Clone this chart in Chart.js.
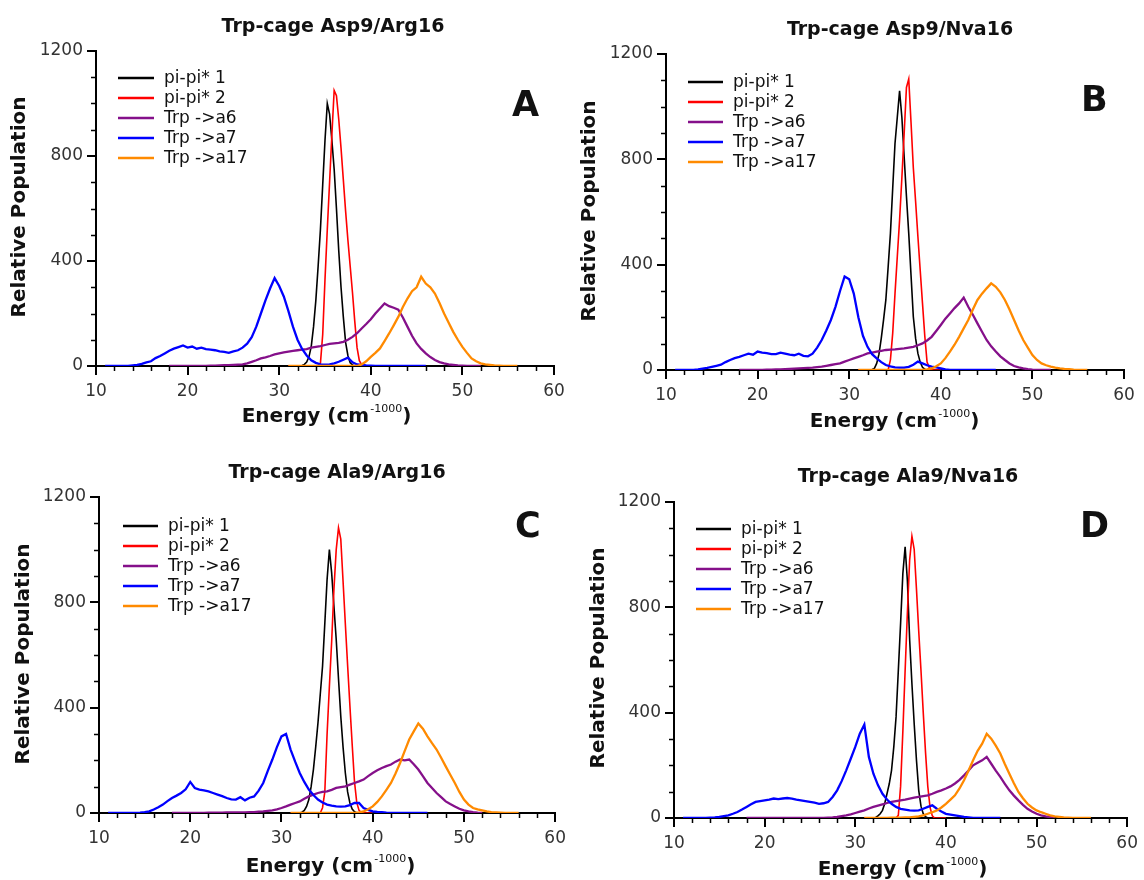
<!DOCTYPE html>
<html lang="en">
<head>
<meta charset="UTF-8">
<title>Trp-cage energy distributions</title>
<script src="https://cdn.jsdelivr.net/npm/chart.js"></script>
<style>
  body { margin: 0; background: #fff; }
  #wrap { position: relative; width: 1144px; height: 880px; }
  canvas { position: absolute; }
</style>
</head>
<body>
<div id="wrap">
  <canvas id="chartA" width="572" height="440" style="left:0;top:0"></canvas>
  <canvas id="chartB" width="572" height="440" style="left:572px;top:0"></canvas>
  <canvas id="chartC" width="572" height="440" style="left:0;top:440px"></canvas>
  <canvas id="chartD" width="572" height="440" style="left:572px;top:440px"></canvas>
</div>
<script>
// energy grids: wide bands every 0.5, narrow pi-pi* bands every 0.25
const blueStart = 11, purpleStart = 18, orangeStart = 31, peakStart = 31;
const wideStep = 0.5, peakStep = 0.25;

const legendLabels = ['pi-pi* 1', 'pi-pi* 2', 'Trp ->a6', 'Trp ->a7', 'Trp ->a17'];
const xTicks = [10, 20, 30, 40, 50, 60];
const yTicks = [0, 400, 800, 1200];

// Panel A: Asp9/Arg16
const aBlack = [0,0,0,0,0,0,2,6,15,35, 75,150,250,380,520,690,860,1000,960,860,
  750,600,440,300,187,90,40,12,4,0, 0,0,0,0,0,0,0];
const aRed = [0,0,0,0,0,0,0,0,0,0, 0,0,0,0,10,120,330,520,700,880,
  1050,1030,940,830,710,590,480,380,280,170, 70,20,5,0,0,0,0];
const aPurple = [0,0,0,0,0,0,0,0,0,1, 1,2,3,3,4,5,6,10,16,22,
  29,33,38,44,48,52,55,58,60,62, 64,70,73,76,80,84,86,88,92,100,
  111,125,143,160,178,200,219,238,228,222, 215,185,150,115,86,65,48,34,23,15,
  10,6,4,2,1,0,0,0,0];
const aBlue = [0,0,0,0,0,0,2,4,8,14, 18,30,38,48,58,66,72,78,70,74,
  66,70,64,62,60,56,54,50,56,60, 70,85,110,150,200,250,295,335,305,265,
  210,150,100,65,40,22,12,6,5,6, 10,16,24,32,14,6,4,2,1,0,
  0,0,0,0,0,0,0,0,0,0, 0];
const aOrange = [0,0,0,0,0,0,0,0,0,0, 0,0,0,0,0,0,6,18,35,50,
  67,95,124,155,187,225,257,285,300,340, 314,300,276,240,200,165,130,100,73,50,
  29,18,10,6,4,2,1,0,0,0, 0];

// Panel B: Asp9/Nva16
const bBlack = [0,0,0,0,0,0,2,6,25,60, 120,190,266,390,519,690,860,960,1060,960,
  810,660,519,360,202,120,63,30,10,3, 0,0,0,0,0,0,0];
const bRed = [0,0,0,0,0,0,0,0,0,0, 0,0,0,0,38,140,290,430,569,730,
  898,1073,1105,940,768,640,507,380,254,130, 30,8,2,0,0,0,0];
const bPurple = [0,0,0,0,0,0,1,1,2,2, 3,4,5,6,7,8,9,11,13,16,
  19,22,25,32,38,44,50,56,63,66, 70,73,76,77,78,80,82,85,88,94,
  101,112,126,148,171,195,215,235,253,275, 240,210,177,145,114,90,70,52,38,25,
  15,10,6,3,1,0,0,0,0];
const bBlue = [0,0,0,0,0,2,5,8,12,16, 20,30,38,45,50,56,62,58,70,66,
  64,60,60,66,62,58,56,62,54,52, 62,85,114,150,190,240,300,355,345,290,
  200,130,88,60,44,30,19,14,10,9, 9,12,20,32,25,18,13,10,6,2,
  0,0,0,0,0,0,0,0,0,0, 0];
const bOrange = [0,0,0,0,0,0,0,0,0,0, 0,0,0,0,0,2,6,14,25,45,
  70,96,126,158,190,230,266,290,310,329, 316,295,266,230,190,150,114,85,57,38,
  25,18,13,9,6,4,3,1,0,0, 0];

// Panel C: Ala9/Arg16
const cBlack = [0,0,0,0,0,3,10,25,51,100, 165,250,342,450,557,720,887,1000,912,785,
  659,510,367,250,152,80,38,15,5,0, 0,0,0,0,0,0,0];
const cRed = [0,0,0,0,0,0,0,0,0,0, 0,0,0,0,20,80,300,480,650,850,
  1000,1083,1040,880,718,560,407,260,120,40, 10,2,0,0,0,0,0];
const cPurple = [0,0,0,0,0,0,0,0,1,1, 1,1,2,2,2,2,2,3,3,5,
  6,8,10,14,19,25,32,38,44,54, 63,70,76,80,82,88,95,98,101,108,
  114,120,127,140,152,162,171,178,184,195, 203,200,203,185,165,140,114,95,76,60,
  44,34,25,16,10,6,3,1,0];
const cBlue = [0,0,0,0,0,0,0,1,3,6, 13,22,32,45,57,66,76,90,118,95,
  89,86,82,76,70,64,57,52,51,60, 48,58,63,85,114,160,203,250,291,300,
  241,195,152,118,89,68,51,40,32,28, 25,24,25,30,38,38,19,12,6,4,
  3,1,0,0,0,0,0,0,0,0, 0];
const cOrange = [0,0,0,0,0,0,0,0,0,0, 0,0,0,0,0,2,6,14,25,42,
  63,88,114,150,190,235,279,310,340,320, 291,265,241,210,177,145,114,80,51,32,
  19,14,10,6,3,2,1,0,0,0, 0];

// Panel D: Ala9/Nva16
const dBlack = [0,0,0,0,0,2,8,16,29,55, 92,130,181,270,384,560,739,929,1030,900,
  677,510,358,220,105,45,16,5,0,0, 0,0,0,0,0,0,0];
const dRed = [0,0,0,0,0,0,0,0,0,0, 0,0,0,0,0,10,120,330,560,780,
  980,1070,1020,870,710,560,400,250,120,40, 8,0,0,0,0,0,0];
const dPurple = [0,0,0,0,0,0,0,0,0,0, 0,0,0,0,0,0,0,0,1,2,
  4,7,10,14,19,24,29,36,42,47, 52,57,61,64,67,70,74,77,80,83,
  86,92,99,105,112,120,131,145,162,180, 200,210,219,232,206,180,156,130,105,85,
  67,50,35,25,16,10,6,3,0];
const dBlue = [0,0,0,0,0,0,1,2,4,7, 10,16,23,32,42,52,61,64,67,70,
  74,72,74,76,74,70,67,64,61,58, 54,56,61,80,105,140,181,225,270,320,
  355,232,168,125,92,70,54,42,35,32, 29,28,29,35,42,48,35,25,16,13,
  10,7,4,2,0,0,0,0,0,0, 0];
const dOrange = [0,0,0,0,0,0,1,1,1,2, 2,4,6,10,16,22,29,40,54,70,
  86,112,143,180,219,255,282,320,301,275, 245,205,168,132,99,75,54,40,29,22,
  16,10,6,4,2,1,0,0,0,0, 0];

const FONT = 'DejaVu Sans';
const colors = ['#000000', '#ff0000', '#85108a', '#0000ff', '#ff8a00'];

function toPoints(start, step, values) {
  return values.map((v, i) => ({ x: start + i * step, y: v }));
}

const panels = [
  { id: 'chartA', title: 'Trp-cage Asp9/Arg16', letter: 'A',
    area: { l: 96, r: 554, t: 51, b: 366 },
    titlePos: [333, 32], yTitlePos: [20, 207], xTitlePos: [326, 422],
    letterPos: [512, 116], legendPos: [118, 154, 164, 78],
    series: [aBlack, aRed, aPurple, aBlue, aOrange] },
  { id: 'chartB', title: 'Trp-cage Asp9/Nva16', letter: 'B',
    area: { l: 94, r: 552, t: 54, b: 370 },
    titlePos: [328, 35], yTitlePos: [18, 211], xTitlePos: [322, 427],
    letterPos: [509, 111], legendPos: [116, 151, 161, 82],
    series: [bBlack, bRed, bPurple, bBlue, bOrange] },
  { id: 'chartC', title: 'Trp-cage Ala9/Arg16', letter: 'C',
    area: { l: 99, r: 561, t: 57, b: 373 },
    titlePos: [337, 38], yTitlePos: [24, 214], xTitlePos: [330, 432],
    letterPos: [515, 97], legendPos: [123, 158, 168, 86],
    series: [cBlack, cRed, cPurple, cBlue, cOrange] },
  { id: 'chartD', title: 'Trp-cage Ala9/Nva16', letter: 'D',
    area: { l: 102, r: 560, t: 62, b: 378 },
    titlePos: [336, 42], yTitlePos: [27, 218], xTitlePos: [330, 435],
    letterPos: [508, 97], legendPos: [124, 159, 169, 89],
    series: [dBlack, dRed, dPurple, dBlue, dOrange] }
];

// minor ticks, titles, panel letter and the legend
const decor = {
  id: 'decor',
  beforeDatasetsDraw(chart) {
    const ctx = chart.ctx, xs = chart.scales.x, ys = chart.scales.y;
    const a = chart.chartArea;
    ctx.save();
    ctx.strokeStyle = '#000';
    ctx.lineWidth = 1.5;
    ctx.beginPath();
    for (let v = 12; v < 60; v += 2) {
      if (v % 10 === 0) continue;
      const px = Math.round(xs.getPixelForValue(v)) + 0.5;
      ctx.moveTo(px, a.bottom);
      ctx.lineTo(px, a.bottom + 5);
    }
    for (let v = 100; v < 1200; v += 100) {
      if (v % 400 === 0) continue;
      const py = Math.round(ys.getPixelForValue(v)) + 0.5;
      ctx.moveTo(a.left - 5, py);
      ctx.lineTo(a.left, py);
    }
    ctx.stroke();
    ctx.restore();
  },
  afterDraw(chart, args, p) {
    const ctx = chart.ctx;
    ctx.save();
    ctx.fillStyle = '#111';
    ctx.textBaseline = 'alphabetic';

    ctx.font = 'bold 19px "' + FONT + '"';
    ctx.textAlign = 'center';
    ctx.fillText(p.title, p.titlePos[0], p.titlePos[1]);

    ctx.font = 'bold 35px "' + FONT + '"';
    ctx.textAlign = 'left';
    ctx.fillText(p.letter, p.letterPos[0], p.letterPos[1]);

    // y axis title
    ctx.save();
    ctx.translate(p.yTitlePos[0], p.yTitlePos[1]);
    ctx.rotate(-Math.PI / 2);
    ctx.font = 'bold 20px "' + FONT + '"';
    ctx.textAlign = 'center';
    ctx.textBaseline = 'middle';
    ctx.fillText('Relative Population', 0, 0);
    ctx.restore();

    // x axis title with superscript
    const main = 'Energy (cm', sup = '-1000', close = ')';
    ctx.font = 'bold 20px "' + FONT + '"';
    const w1 = ctx.measureText(main).width, w3 = ctx.measureText(close).width;
    ctx.font = '11px "' + FONT + '"';
    const w2 = ctx.measureText(sup).width;
    let x0 = p.xTitlePos[0] - (w1 + w2 + w3) / 2;
    const yb = p.xTitlePos[1];
    ctx.textAlign = 'left';
    ctx.font = 'bold 20px "' + FONT + '"';
    ctx.fillText(main, x0, yb);
    ctx.font = '11px "' + FONT + '"';
    ctx.fillText(sup, x0 + w1 + 1, yb - 10);
    ctx.font = 'bold 20px "' + FONT + '"';
    ctx.fillText(close, x0 + w1 + w2 + 1, yb);

    // legend
    const [lx1, lx2, tx, ly] = p.legendPos;
    ctx.font = '17px "' + FONT + '"';
    ctx.textBaseline = 'middle';
    legendLabels.forEach((lab, i) => {
      const y = ly + i * 20;
      ctx.strokeStyle = colors[i];
      ctx.lineWidth = 2.5;
      ctx.beginPath();
      ctx.moveTo(lx1, y);
      ctx.lineTo(lx2, y);
      ctx.stroke();
      ctx.fillStyle = '#111';
      ctx.fillText(lab, tx, y + 1);
    });
    ctx.restore();
  }
};

function makeChart(p) {
  const W = 572, H = 440;
  const starts = [peakStart, peakStart, purpleStart, blueStart, orangeStart];
  const steps = [peakStep, peakStep, wideStep, wideStep, wideStep];
  const widths = [1.6, 1.6, 2.3, 2.3, 2.3];
  const orders = [5, 4, 3, 2, 1];
  const datasets = p.series.map((vals, i) => ({
    label: legendLabels[i],
    data: toPoints(starts[i], steps[i], vals),
    borderColor: colors[i],
    borderWidth: widths[i],
    pointRadius: 0,
    tension: 0,
    fill: false,
    order: orders[i]
  }));

  new Chart(document.getElementById(p.id), {
    type: 'line',
    data: { datasets },
    options: {
      responsive: false,
      animation: false,
      devicePixelRatio: 1,
      layout: { padding: { left: 0, top: p.area.t, right: W - p.area.r, bottom: 0 } },
      plugins: {
        legend: { display: false },
        tooltip: { enabled: false },
        decor: p
      },
      scales: {
        x: {
          type: 'linear', min: 10, max: 60,
          afterBuildTicks(scale) { scale.ticks = xTicks.map(v => ({ value: v })); },
          afterFit(scale) { scale.height = H - p.area.b; },
          ticks: { color: '#333', padding: 6, font: { family: FONT, size: 17 },
                   callback: v => String(v) },
          grid: { drawOnChartArea: false, color: '#000', tickLength: 9, lineWidth: 2 },
          border: { color: '#000', width: 2 }
        },
        y: {
          type: 'linear', min: 0, max: 1200,
          afterBuildTicks(scale) { scale.ticks = yTicks.map(v => ({ value: v })); },
          afterFit(scale) { scale.width = p.area.l; },
          ticks: { color: '#333', padding: 4, font: { family: FONT, size: 17 },
                   callback: v => String(v) },
          grid: { drawOnChartArea: false, color: '#000', tickLength: 9, lineWidth: 2 },
          border: { color: '#000', width: 2 }
        }
      }
    },
    plugins: [decor]
  });
}

panels.forEach(makeChart);
</script>
</body>
</html>
